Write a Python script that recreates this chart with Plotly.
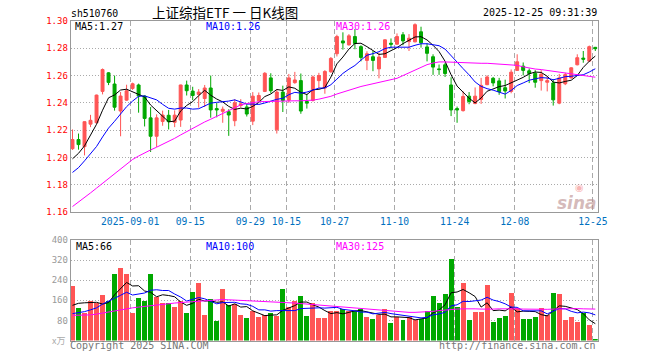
import plotly.graph_objects as go

# ---------------- data ----------------
tick_index = [10, 20, 30, 36, 44, 54, 64, 74, 87]
tick_labels = ["2025-09-01", "09-15", "09-29", "10-15", "10-27", "11-10", "11-24", "12-08", "12-25"]

opens = [1.2064, 1.2131, 1.2079, 1.2244, 1.2254, 1.2484, 1.2620, 1.2538, 1.2340, 1.2420,
         1.2506, 1.2531, 1.2450, 1.2290, 1.2155, 1.2264, 1.2309, 1.2257, 1.2274, 1.2531,
         1.2486, 1.2462, 1.2432, 1.2509, 1.2358, 1.2338, 1.2335, 1.2269, 1.2380, 1.2370,
         1.2266, 1.2415, 1.2484, 1.2583, 1.2202, 1.2479, 1.2420, 1.2548, 1.2563, 1.2410,
         1.2417, 1.2563, 1.2509, 1.2628, 1.2760, 1.2854, 1.2825, 1.2886, 1.2812, 1.2711,
         1.2738, 1.2649, 1.2733, 1.2837, 1.2830, 1.2899, 1.2849, 1.2847, 1.2921, 1.2810,
         1.2738, 1.2649, 1.2679, 1.2531, 1.2358, 1.2343, 1.2449, 1.2395, 1.2425, 1.2533,
         1.2580, 1.2561, 1.2511, 1.2484, 1.2638, 1.2669, 1.2635, 1.2617, 1.2563, 1.2551,
         1.2546, 1.2398, 1.2540, 1.2583, 1.2679, 1.2728, 1.2706, 1.2807]
highs = [1.2205, 1.2175, 1.2265, 1.2312, 1.2460, 1.2652, 1.2625, 1.2600, 1.2480, 1.2533,
         1.2548, 1.2541, 1.2454, 1.2369, 1.2316, 1.2343, 1.2348, 1.2345, 1.2533, 1.2563,
         1.2518, 1.2501, 1.2531, 1.2600, 1.2400, 1.2373, 1.2353, 1.2427, 1.2427, 1.2390,
         1.2479, 1.2476, 1.2625, 1.2617, 1.2499, 1.2526, 1.2612, 1.2627, 1.2615, 1.2465,
         1.2600, 1.2620, 1.2640, 1.2736, 1.2899, 1.2917, 1.2904, 1.2941, 1.2822, 1.2778,
         1.2780, 1.2768, 1.2867, 1.2872, 1.2909, 1.2919, 1.2904, 1.2983, 1.2958, 1.2837,
         1.2756, 1.2681, 1.2694, 1.2588, 1.2373, 1.2484, 1.2479, 1.2513, 1.2583, 1.2602,
         1.2590, 1.2583, 1.2570, 1.2645, 1.2756, 1.2696, 1.2652, 1.2640, 1.2640, 1.2595,
         1.2575, 1.2612, 1.2620, 1.2661, 1.2756, 1.2780, 1.2820, 1.2810]
lows = [1.2055, 1.2057, 1.2015, 1.2222, 1.2250, 1.2462, 1.2530, 1.2343, 1.2155, 1.2415,
        1.2495, 1.2328, 1.2227, 1.2040, 1.2077, 1.2232, 1.2205, 1.2222, 1.2224, 1.2454,
        1.2420, 1.2365, 1.2370, 1.2291, 1.2294, 1.2254, 1.2158, 1.2229, 1.2366, 1.2300,
        1.2237, 1.2410, 1.2479, 1.2470, 1.2175, 1.2333, 1.2400, 1.2540, 1.2320, 1.2358,
        1.2410, 1.2509, 1.2467, 1.2620, 1.2740, 1.2790, 1.2820, 1.2793, 1.2704, 1.2640,
        1.2632, 1.2580, 1.2730, 1.2798, 1.2825, 1.2822, 1.2780, 1.2844, 1.2805, 1.2704,
        1.2605, 1.2605, 1.2590, 1.2303, 1.2254, 1.2336, 1.2390, 1.2390, 1.2392, 1.2530,
        1.2521, 1.2459, 1.2432, 1.2470, 1.2636, 1.2601, 1.2545, 1.2511, 1.2490, 1.2484,
        1.2380, 1.2390, 1.2530, 1.2578, 1.2675, 1.2694, 1.2700, 1.2780]
closes = [1.2131, 1.2094, 1.2262, 1.2272, 1.2457, 1.2644, 1.2550, 1.2368, 1.2450, 1.2489,
          1.2540, 1.2450, 1.2286, 1.2155, 1.2290, 1.2311, 1.2262, 1.2310, 1.2531, 1.2489,
          1.2454, 1.2479, 1.2509, 1.2348, 1.2348, 1.2353, 1.2311, 1.2400, 1.2393, 1.2318,
          1.2449, 1.2454, 1.2617, 1.2489, 1.2479, 1.2417, 1.2583, 1.2568, 1.2340, 1.2398,
          1.2590, 1.2600, 1.2630, 1.2726, 1.2886, 1.2839, 1.2891, 1.2835, 1.2733, 1.2760,
          1.2711, 1.2736, 1.2862, 1.2830, 1.2886, 1.2854, 1.2874, 1.2973, 1.2840, 1.2763,
          1.2662, 1.2644, 1.2615, 1.2348, 1.2348, 1.2447, 1.2410, 1.2449, 1.2528, 1.2590,
          1.2546, 1.2482, 1.2487, 1.2625, 1.2701, 1.2638, 1.2615, 1.2551, 1.2610, 1.2563,
          1.2422, 1.2583, 1.2607, 1.2657, 1.2731, 1.2720, 1.2812, 1.2797]

ma5 = [1.1990, 1.2030, 1.2085, 1.2160, 1.2243, 1.2346, 1.2437, 1.2458, 1.2494, 1.2500,
       1.2479, 1.2459, 1.2443, 1.2384, 1.2344, 1.2298, 1.2261, 1.2266, 1.2341, 1.2381,
       1.2409, 1.2453, 1.2492, 1.2456, 1.2428, 1.2407, 1.2374, 1.2352, 1.2361, 1.2355,
       1.2374, 1.2403, 1.2446, 1.2465, 1.2498, 1.2491, 1.2517, 1.2507, 1.2477, 1.2461,
       1.2496, 1.2499, 1.2512, 1.2589, 1.2686, 1.2736, 1.2794, 1.2835, 1.2837, 1.2812,
       1.2786, 1.2755, 1.2760, 1.2780, 1.2805, 1.2834, 1.2861, 1.2883, 1.2885, 1.2861,
       1.2822, 1.2776, 1.2705, 1.2606, 1.2523, 1.2480, 1.2434, 1.2400, 1.2436, 1.2485,
       1.2505, 1.2519, 1.2527, 1.2546, 1.2568, 1.2587, 1.2613, 1.2626, 1.2623, 1.2595,
       1.2552, 1.2546, 1.2557, 1.2566, 1.2600, 1.2660, 1.2705, 1.2743]
ma10 = [1.1890, 1.1925, 1.1975, 1.2030, 1.2080, 1.2150, 1.2215, 1.2265, 1.2320, 1.2372,
        1.2413, 1.2448, 1.2451, 1.2439, 1.2422, 1.2389, 1.2360, 1.2354, 1.2362, 1.2362,
        1.2354, 1.2357, 1.2379, 1.2398, 1.2404, 1.2408, 1.2413, 1.2422, 1.2408, 1.2391,
        1.2391, 1.2388, 1.2399, 1.2413, 1.2426, 1.2433, 1.2460, 1.2477, 1.2471, 1.2479,
        1.2494, 1.2508, 1.2509, 1.2533, 1.2574, 1.2616, 1.2647, 1.2674, 1.2713, 1.2749,
        1.2761, 1.2775, 1.2798, 1.2808, 1.2808, 1.2810, 1.2808, 1.2822, 1.2833, 1.2833,
        1.2828, 1.2819, 1.2794, 1.2746, 1.2692, 1.2651, 1.2605, 1.2553, 1.2521, 1.2504,
        1.2493, 1.2476, 1.2464, 1.2491, 1.2527, 1.2546, 1.2566, 1.2576, 1.2585, 1.2582,
        1.2569, 1.2580, 1.2592, 1.2595, 1.2598, 1.2606, 1.2626, 1.2650]
ma30 = [1.1640, 1.1672, 1.1706, 1.1740, 1.1775, 1.1810, 1.1845, 1.1880, 1.1915, 1.1950,
        1.1985, 1.2010, 1.2035, 1.2055, 1.2075, 1.2095, 1.2115, 1.2140, 1.2165, 1.2190,
        1.2215, 1.2240, 1.2260, 1.2280, 1.2300, 1.2320, 1.2340, 1.2360, 1.2385, 1.2395,
        1.2402, 1.2408, 1.2410, 1.2412, 1.2414, 1.2415, 1.2415, 1.2415, 1.2415, 1.2416,
        1.2420, 1.2427, 1.2435, 1.2448, 1.2465, 1.2480, 1.2493, 1.2506, 1.2520, 1.2530,
        1.2540, 1.2548, 1.2556, 1.2565, 1.2580, 1.2600, 1.2618, 1.2640, 1.2660, 1.2680,
        1.2692, 1.2700, 1.2700, 1.2698, 1.2695, 1.2692, 1.2690, 1.2690, 1.2690, 1.2690,
        1.2688, 1.2686, 1.2684, 1.2682, 1.2675, 1.2664, 1.2655, 1.2648, 1.2644, 1.2638,
        1.2631, 1.2625, 1.2618, 1.2611, 1.2605, 1.2598, 1.2592, 1.2588]

volumes = [216, 128, 111, 156, 150, 180, 159, 264, 288, 264,
           108, 168, 156, 264, 172, 151, 151, 132, 159, 108,
           192, 228, 100, 164, 76, 204, 140, 144, 100, 88,
           116, 92, 100, 108, 96, 204, 132, 156, 176, 96,
           148, 88, 88, 116, 116, 124, 116, 116, 124, 92,
           84, 103, 124, 68, 92, 80, 92, 80, 84, 116,
           176, 148, 184, 324, 132, 228, 80, 112, 112, 220,
           72, 88, 96, 188, 128, 84, 84, 92, 128, 100,
           188, 184, 80, 92, 72, 108, 60, 4]
vol_ma5 = [140, 148, 150, 150, 152, 145, 151, 182, 208, 231,
           217, 218, 197, 192, 174, 182, 179, 174, 153, 140,
           148, 164, 157, 158, 152, 154, 137, 146, 133, 135,
           118, 108, 99, 101, 102, 120, 128, 139, 153, 153,
           142, 133, 119, 107, 111, 106, 112, 118, 119, 114,
           106, 104, 105, 94, 94, 93, 91, 82, 86, 90,
           110, 121, 142, 190, 193, 203, 190, 175, 133, 150,
           119, 121, 118, 133, 114, 117, 116, 115, 103, 98,
           118, 138, 136, 129, 123, 107, 82, 67]
vol_ma10 = [107, 110, 115, 122, 130, 145, 155, 168, 180, 192,
            181, 185, 189, 200, 202, 199, 199, 185, 173, 157,
            165, 171, 166, 156, 146, 151, 150, 152, 146, 144,
            136, 122, 122, 117, 119, 119, 118, 119, 127, 128,
            131, 130, 129, 130, 132, 124, 122, 118, 113, 113,
            106, 108, 112, 107, 104, 100, 98, 94, 90, 92,
            102, 106, 112, 138, 142, 156, 155, 158, 161, 172,
            161, 155, 146, 133, 132, 118, 118, 116, 118, 106,
            118, 127, 126, 116, 110, 113, 110, 102]
vol_ma30 = [100, 100, 100, 102, 105, 109, 114, 119, 124, 128,
            130, 133, 136, 139, 143, 145, 147, 149, 151, 153,
            155, 156, 158, 160, 162, 163, 162, 161, 160, 159,
            158, 156, 155, 154, 153, 152, 150, 149, 147, 145,
            143, 140, 138, 136, 135, 134, 132, 131, 129, 127,
            125, 123, 121, 119, 116, 114, 112, 112, 113, 115,
            116, 119, 122, 124, 125, 126, 127, 126, 125, 124,
            125, 126, 127, 127, 126, 125, 124, 124, 124, 124,
            125, 126, 126, 127, 127, 126, 126, 125]

price_ticks = [1.16, 1.18, 1.20, 1.22, 1.24, 1.26, 1.28, 1.30]
vol_ticks = [80, 160, 240, 320, 400]

price_ma_labels = ["MA5:1.27", "MA10:1.26", "MA30:1.26"]
vol_ma_labels = ["MA5:66", "MA10:100", "MA30:125"]

# ---------------- styling ----------------
W, H = 660, 360
RED = "#ff5555"
GREEN = "#00a800"
MONO = "DejaVu Sans Mono"
GRID = "#aaaaaa"
BORDER = "#999999"
XL, XR = 70.7, 597.7
P_TOP, P_BOT = 21.0, 212.0
V_TOP, V_BOT = 240.0, 340.5


def fx(px):
    return px / W


def fy(py):
    return 1 - py / H


idx = list(range(len(closes)))
bar_colors = [RED if c >= o else GREEN for o, c in zip(opens, closes)]

fig = go.Figure()
fig.add_trace(go.Candlestick(
    x=idx, open=opens, high=highs, low=lows, close=closes,
    increasing=dict(line=dict(color=RED, width=1), fillcolor=RED),
    decreasing=dict(line=dict(color=GREEN, width=1), fillcolor=GREEN),
    whiskerwidth=0, xaxis="x", yaxis="y", hoverinfo="skip"))
for ser, col in ((ma5, "#000000"), (ma10, "#0000ff"), (ma30, "#ff00ff")):
    fig.add_trace(go.Scatter(x=idx, y=ser, mode="lines", line=dict(color=col, width=1),
                             xaxis="x", yaxis="y", hoverinfo="skip"))

fig.add_trace(go.Bar(x=idx, y=volumes, marker=dict(color=bar_colors, line=dict(width=0)),
                     width=0.83, xaxis="x2", yaxis="y2", hoverinfo="skip"))
for ser, col in ((vol_ma5, "#000000"), (vol_ma10, "#0000ff"), (vol_ma30, "#ff00ff")):
    fig.add_trace(go.Scatter(x=idx, y=ser, mode="lines", line=dict(color=col, width=1),
                             xaxis="x2", yaxis="y2", hoverinfo="skip"))

xrange = [-0.3, 87.4]
tickpos = [t - 0.4 for t in tick_index]
common_x = dict(domain=[fx(XL), fx(XR)], range=xrange, tickmode="array", tickvals=tickpos,
                showgrid=True, gridcolor=GRID, gridwidth=1, griddash="5px,3px",
                showline=True, mirror=True, linecolor=BORDER, linewidth=1,
                zeroline=False, ticks="", fixedrange=True)

fig.update_layout(
    width=W, height=H, margin=dict(l=0, r=0, t=0, b=0, autoexpand=False),
    paper_bgcolor="white", plot_bgcolor="white", showlegend=False,
    boxgap=0.3, bargap=0,
    xaxis=dict(**common_x, anchor="y", ticktext=tick_labels,
               tickfont=dict(family=MONO, size=9.7, color="#0070c0"),
               rangeslider=dict(visible=False)),
    yaxis=dict(domain=[fy(P_BOT), fy(P_TOP)], range=[1.16, 1.30], tickmode="array",
               tickvals=price_ticks, ticktext=[f"{v:.2f}" for v in price_ticks],
               tickfont=dict(family=MONO, size=9, color="#ff0000"),
               showgrid=True, gridcolor=GRID, gridwidth=1, griddash="1px,2px",
               showline=True, mirror=True, linecolor=BORDER, linewidth=1,
               zeroline=False, ticks="", anchor="x", fixedrange=True),
    xaxis2=dict(**common_x, anchor="y2", showticklabels=False),
    yaxis2=dict(domain=[fy(V_BOT), fy(V_TOP)], range=[0, 400], tickmode="array",
                tickvals=vol_ticks, ticktext=[str(v) for v in vol_ticks],
                tickfont=dict(family=MONO, size=9, color="#999999"),
                showgrid=True, gridcolor=GRID, gridwidth=1, griddash="1px,2px",
                showline=True, mirror=True, linecolor=BORDER, linewidth=1,
                zeroline=False, ticks="", anchor="x2", fixedrange=True),
)


def label(text, x, y, color="#000000", size=10, family=MONO, xanchor="left"):
    fig.add_annotation(text=text, x=fx(x), y=fy(y), xref="paper", yref="paper",
                       xanchor=xanchor, yanchor="middle", showarrow=False,
                       borderpad=0, font=dict(family=family, size=size, color=color))


label("sh510760", 69.5, 13.5, size=9.8)
label("上证综指ETF 一 日K线图", 150.5, 12, size=13.5, family="Noto Sans CJK SC")
label("2025-12-25 09:31:39", 597.5, 12.5, xanchor="right")
label(price_ma_labels[0], 73.5, 26.5)
label(price_ma_labels[1], 204.5, 26.5, color="#0000ff")
label(price_ma_labels[2], 334.5, 26.5, color="#ff00ff")
label(vol_ma_labels[0], 74.5, 246.5)
label(vol_ma_labels[1], 204.5, 246.5, color="#0000ff")
label(vol_ma_labels[2], 334.5, 246.5, color="#ff00ff")
label("x万", 66, 340, color="#aaaaaa", size=9, family="Noto Sans CJK SC", xanchor="right")
label("Copyright 2025 SINA.COM", 69, 345.5, color="#777777")
label("http://finance.sina.com.cn", 597, 345.5, color="#777777", xanchor="right")
# sina watermark
label("<b><i>sina</i></b>", 598, 203, color="rgba(185,140,140,0.6)", size=17,
      family="DejaVu Sans", xanchor="right")
label("◉", 574, 187.5, color="rgba(240,110,110,0.5)", size=10, family="DejaVu Sans")

fig.write_html("out.html", post_script="document.body.style.margin='0px';",
               config={"displayModeBar": False, "staticPlot": True})
